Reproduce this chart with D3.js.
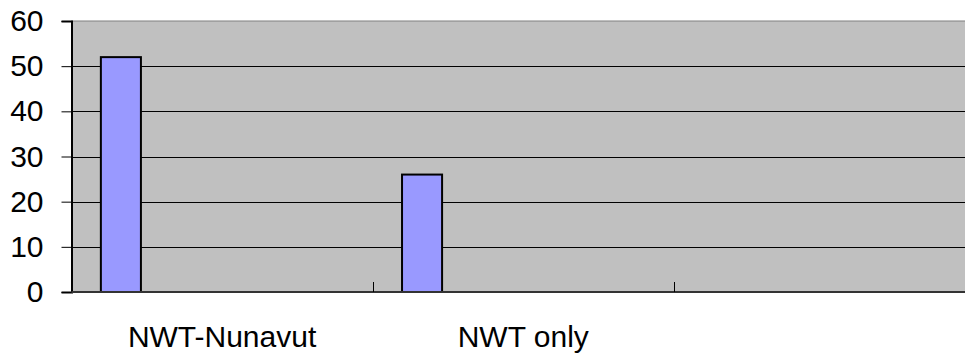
<!DOCTYPE html>
<html><head><meta charset="utf-8">
<script src="https://cdn.jsdelivr.net/npm/d3@7"></script>
<style>body{margin:0;background:#fff}svg{display:block}</style>
</head><body>
<script>
const categories = ["NWT-Nunavut", "NWT only", ""];
const values = [52, 26, null];
const yTicks = [0, 10, 20, 30, 40, 50, 60];

const W = 965, H = 353;
const m = {left: 71.5, top: 21, right: 975, bottom: 292};
const svg = d3.select("body").append("svg").attr("width", W).attr("height", H);

const x = d3.scaleBand().domain(categories).range([m.left, m.right]);
const y = d3.scaleLinear().domain([0, 60]).range([m.bottom, m.top]);

// plot background
svg.append("rect").attr("x", m.left).attr("y", m.top)
  .attr("width", m.right - m.left).attr("height", m.bottom - m.top)
  .attr("fill", "#c0c0c0").attr("stroke", "#808080").attr("stroke-width", 1);

// gridlines
svg.append("g").selectAll("line").data(yTicks.filter(d => d > 0 && d < 60)).join("line")
  .attr("x1", m.left).attr("x2", m.right)
  .attr("y1", d => Math.round(y(d)) + 0.5).attr("y2", d => Math.round(y(d)) + 0.5)
  .attr("stroke", "#000").attr("stroke-width", 1);

// bars
const bw = x.bandwidth();
svg.append("g").selectAll("rect").data(categories.map((c, i) => ({c, v: values[i]})).filter(d => d.v != null)).join("rect")
  .attr("x", d => x(d.c) + bw * 0.0975)
  .attr("y", d => y(d.v))
  .attr("width", bw * 0.133)
  .attr("height", d => y(0) - y(d.v))
  .attr("fill", "#9999ff").attr("stroke", "#000").attr("stroke-width", 2);

// y axis
const yAxis = svg.append("g").attr("transform", `translate(${m.left},0)`)
  .call(d3.axisLeft(y).tickValues(yTicks).tickSize(10).tickPadding(18));
yAxis.select(".domain").attr("stroke", "#000").attr("stroke-width", 2);
yAxis.selectAll(".tick line").attr("stroke", "#000");
yAxis.selectAll("text").attr("font-family", "Liberation Sans, Arial, sans-serif")
  .attr("font-size", 30).attr("fill", "#000");

// x axis line
svg.append("line").attr("x1", m.left).attr("x2", m.right)
  .attr("y1", m.bottom).attr("y2", m.bottom).attr("stroke", "#333").attr("stroke-width", 2);
// inner category ticks
svg.append("g").selectAll("line").data(categories.slice(1)).join("line")
  .attr("x1", d => Math.round(x(d)) + 0.5).attr("x2", d => Math.round(x(d)) + 0.5)
  .attr("y1", m.bottom).attr("y2", m.bottom - 10).attr("stroke", "#000");

// category labels
svg.append("g").selectAll("text").data(categories).join("text")
  .attr("x", d => x(d) + bw / 2).attr("y", 347)
  .attr("text-anchor", "middle")
  .attr("font-family", "Liberation Sans, Arial, sans-serif").attr("font-size", 30)
  .text(d => d);
</script>
</body></html>
